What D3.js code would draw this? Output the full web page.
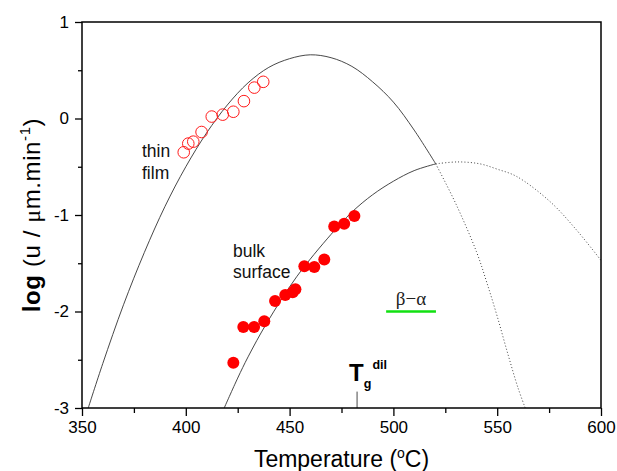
<!DOCTYPE html>
<html>
<head>
<meta charset="utf-8">
<script src="https://cdn.jsdelivr.net/npm/d3@7"></script>
<style>
  body { margin: 0; background: #fff; }
  text { font-family: "Liberation Sans", Arial, sans-serif; }
</style>
</head>
<body>
<div id="chart"></div>
<script>
// measured points, thin film (open) and bulk surface (filled)
let filmT = [399, 401.2, 403.6, 407.6, 412.5, 417.8, 422.9, 428, 433, 437.3]
let filmLog = [-0.35, -0.26, -0.24, -0.14, 0.02, 0.04, 0.07, 0.18, 0.32, 0.38]

let bulkT = [422.9, 427.7, 432.9, 437.8, 443, 447.9, 451.5, 452.8, 457.1, 461.9, 466.7, 471.5, 476.3, 481.2]
let bulkLog = [-2.53, -2.16, -2.16, -2.10, -1.89, -1.83, -1.80, -1.77, -1.53, -1.54, -1.46, -1.12, -1.09, -1.01]

// fitted curves
let filmFitT = [353, 360, 370, 380, 390, 400, 410, 420, 430, 440, 450, 460, 470, 480, 490, 500, 510, 520.4]
let filmFitLog = [-3.0, -2.54, -1.93, -1.39, -0.91, -0.50, -0.15, 0.14, 0.37, 0.53, 0.62, 0.66, 0.63, 0.54, 0.38, 0.17, -0.12, -0.47]
let filmDotT = [520.4, 530, 540, 545, 550, 555, 560, 563.5]
let filmDotLog = [-0.47, -0.88, -1.38, -1.70, -2.05, -2.43, -2.79, -3.0]

let bulkFitT = [418.5, 425, 430, 439, 453.4, 470, 480, 490, 500, 510, 520.4]
let bulkFitLog = [-3.0, -2.69, -2.47, -2.12, -1.64, -1.20, -0.97, -0.79, -0.65, -0.54, -0.47]
let bulkDotT = [520.4, 531, 541.7, 550, 559.3, 575.4, 588.2, 600]
let bulkDotLog = [-0.47, -0.45, -0.47, -0.525, -0.60, -0.86, -1.155, -1.47]

// annotations
let betaAlphaT = [496.5, 520.5]
let betaAlphaLog = -2.0
let tgDil = 482.5

let xTicks = [350, 400, 450, 500, 550, 600]
let xMinor = [375, 425, 475, 525, 575]
let yTicks = [1, 0, -1, -2, -3]
let yMinor = [0.5, -0.5, -1.5, -2.5]

let margin = {top: 22, right: 16, bottom: 63, left: 82}
let width = 617 - margin.left - margin.right
let height = 471 - margin.top - margin.bottom

let svg = d3.select('div#chart')
  .append('svg')
    .attr('width', 617)
    .attr('height', 471)

let g = svg.append('g')
  .attr('transform', `translate(${margin.left}, ${margin.top})`)

let x = d3.scaleLinear().domain([350, 600]).range([0, width])
let y = d3.scaleLinear().domain([-3, 1]).range([height, 0])

g.append('clipPath').attr('id', 'clip')
  .append('rect').attr('width', width).attr('height', height)

let zip = (a, b) => a.map((d, i) => [d, b[i]])
let line = d3.line()
  .x(d => x(d[0]))
  .y(d => y(d[1]))
  .curve(d3.curveCatmullRom)

let curves = g.append('g').attr('clip-path', 'url(#clip)').attr('fill', 'none')

curves.append('path')
  .attr('d', line(zip(filmFitT, filmFitLog)))
  .attr('stroke', '#333').attr('stroke-width', 0.9)
curves.append('path')
  .attr('d', line(zip(bulkFitT, bulkFitLog)))
  .attr('stroke', '#333').attr('stroke-width', 0.9)
curves.append('path')
  .attr('d', line(zip(filmDotT, filmDotLog)))
  .attr('stroke', '#444').attr('stroke-width', 1)
  .attr('stroke-dasharray', '1,2.2')
curves.append('path')
  .attr('d', line(zip(bulkDotT, bulkDotLog)))
  .attr('stroke', '#444').attr('stroke-width', 1)
  .attr('stroke-dasharray', '1,2.2')

// beta-alpha marker
g.append('line')
  .attr('x1', x(betaAlphaT[0])).attr('x2', x(betaAlphaT[1]))
  .attr('y1', y(betaAlphaLog)).attr('y2', y(betaAlphaLog))
  .attr('stroke', '#11e011').attr('stroke-width', 2.5)
g.append('text')
  .attr('x', x(d3.mean(betaAlphaT)))
  .attr('y', y(betaAlphaLog) - 7)
  .attr('text-anchor', 'middle')
  .style('font-family', '"Liberation Serif", "DejaVu Serif", serif')
  .style('font-size', '19px')
  .attr('fill', '#222')
  .text('β−α')

// Tg dil marker
g.append('line')
  .attr('x1', x(tgDil)).attr('x2', x(tgDil))
  .attr('y1', y(-3)).attr('y2', y(-2.83))
  .attr('stroke', '#333').attr('stroke-width', 0.9)
let tg = g.append('text')
  .attr('x', x(tgDil) - 8)
  .attr('y', 381 - margin.top)
  .style('font-weight', 'bold')
tg.append('tspan').style('font-size', '24px').text('T')
tg.append('tspan').style('font-size', '12.5px').attr('dy', 7).text('g')
tg.append('tspan').style('font-size', '12.5px').attr('dx', 1).attr('dy', -19).text('dil')

// data points
g.append('g').selectAll('circle')
  .data(zip(filmT, filmLog))
  .enter().append('circle')
  .attr('cx', d => x(d[0]))
  .attr('cy', d => y(d[1]))
  .attr('r', 5.8)
  .attr('fill', 'none')
  .attr('stroke', '#ff1a1a')
  .attr('stroke-width', 1)

g.append('g').selectAll('circle')
  .data(zip(bulkT, bulkLog))
  .enter().append('circle')
  .attr('cx', d => x(d[0]))
  .attr('cy', d => y(d[1]))
  .attr('r', 6)
  .attr('fill', '#ff0000')

// labels
let lab = (t, px, py) => g.append('text')
  .attr('x', px).attr('y', py)
  .style('font-size', '17.5px')
  .attr('fill', '#111')
  .text(t)
lab('thin', 142 - margin.left, 157 - margin.top)
lab('film', 142 - margin.left, 179 - margin.top)
lab('bulk', 233 - margin.left, 257 - margin.top)
lab('surface', 233 - margin.left, 278 - margin.top)

// axes
g.append('g')
  .attr('transform', `translate(0, ${height})`)
  .call(d3.axisBottom(x).tickValues(xTicks).tickSize(8).tickPadding(5))
g.append('g')
  .attr('transform', `translate(0, ${height})`)
  .call(d3.axisBottom(x).tickValues(xMinor).tickSize(5).tickFormat(''))

let yAxis = g.append('g')
  .call(d3.axisLeft(y).tickValues(yTicks).tickSize(7).tickPadding(6).tickFormat(d3.format('d')))
g.append('g')
  .call(d3.axisLeft(y).tickValues(yMinor).tickSize(4).tickFormat(''))

g.selectAll('.domain').remove()
g.selectAll('.tick line').attr('stroke', '#000').attr('stroke-width', 1.3)
g.selectAll('.tick text')
  .style('font-family', '"Liberation Sans", Arial, sans-serif')
  .style('font-size', '17px')
  .attr('fill', '#000')
yAxis.selectAll('.tick text').text(d => d < 0 ? '-' + Math.abs(d) : d)

g.append('rect')
  .attr('width', width).attr('height', height)
  .attr('fill', 'none')
  .attr('stroke', '#000').attr('stroke-width', 1.5)

// axis titles
let xt = svg.append('text')
  .attr('x', margin.left + width / 2)
  .attr('y', 467)
  .attr('text-anchor', 'middle')
  .style('font-size', '23px')
xt.append('tspan').text('Temperature (')
xt.append('tspan').style('font-size', '14px').attr('dy', -9).text('o')
xt.append('tspan').attr('dy', 9).text('C)')

let yt = svg.append('text')
  .attr('transform', `translate(40, ${margin.top + height / 2}) rotate(-90)`)
  .attr('text-anchor', 'middle')
  .style('font-size', '24px')
  .style('letter-spacing', '0.6px')
yt.append('tspan').style('font-weight', 'bold').text('log')
yt.append('tspan').text(' (u / ')
yt.append('tspan').style('font-family', '"Liberation Serif", serif').text('μ')
yt.append('tspan').text('m.min')
yt.append('tspan').style('font-size', '15px').attr('dy', -10).text('-1')
yt.append('tspan').attr('dy', 10).text(')')
</script>
</body>
</html>
